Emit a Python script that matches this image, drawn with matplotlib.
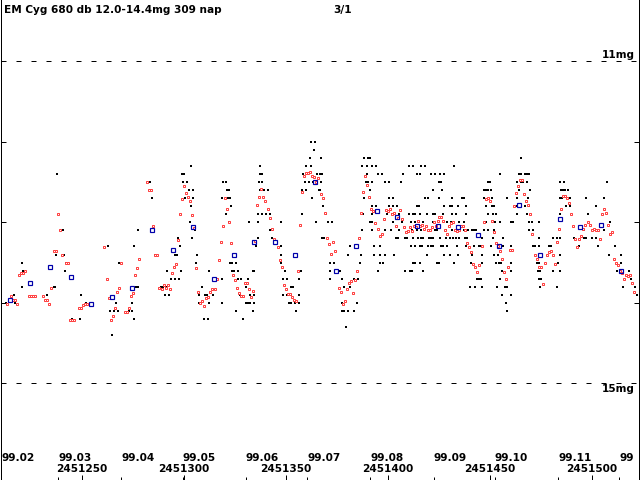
"""
EM Cyg light curve, 1999 Feb - Dec (visual estimates + 10-day means)
"""

import numpy as np
import pandas as pd
import matplotlib
matplotlib.use("Agg")
import matplotlib.pyplot as plt

JD0 = 2451200  # all JD values below are JD - JD0

TITLE = "EM Cyg 680 db 12.0-14.4mg 309 nap"
PAGE = "3/1"

# individual visual estimates (black dots), grouped by magnitude row
vis_rows = [12.0, 12.1, 12.2, 12.3, 12.4, 12.5, 12.6, 12.7, 12.8, 12.9, 13.0, 13.1,
            13.2, 13.3, 13.4, 13.5, 13.6, 13.7, 13.8, 13.9, 14.0, 14.1, 14.2, 14.3, 14.4]
vis_jd_rows = [
    [162.4, 164.4],
    [163.9],
    [161.9, 167.3, 188.4, 190.3, 191.3, 265.4],
    [103.6, 137.2, 159.8, 162.4, 187.4, 189.9, 192.3, 194.3, 210.4, 212.4, 216.3, 218.3, 232.5],
    [37.9, 99.2, 100.1, 137.2, 138.2, 158.3, 165.3, 166.8, 167.8, 189.9, 195.2, 197.2, 207.5,
     214.4, 215.8, 221.2, 223.2, 225.6, 227.6, 255.0, 264.4, 265.4, 267.3, 268.3, 269.3],
    [83.3, 99.7, 101.6, 119.3, 120.7, 136.9, 138.4, 159.5, 161.4, 163.4, 167.3, 189.4, 190.3,
     192.3, 198.7, 200.6, 206.5, 225.1, 226.1, 249.2, 250.2, 263.4, 265.4, 266.3, 268.3, 284.5,
     286.4, 307.5],
    [102.4, 104.6, 121.4, 122.4, 137.4, 139.4, 141.3, 158.1, 159.8, 166.3, 166.8, 191.3, 222.2,
     226.6, 247.2, 248.2, 249.2, 250.6, 264.4, 269.8, 284.9, 285.9, 286.9, 288.4],
    [84.5, 100.6, 104.6, 118.8, 121.7, 122.7, 162.9, 188.4, 191.3, 200.6, 202.6, 218.3, 219.8,
     225.1, 231.5, 236.4, 237.4, 247.2, 251.1, 258.5, 263.4, 268.8, 284.5, 285.4, 289.4, 297.2,
     306.0],
    [103.6, 123.2, 168.3, 192.3, 194.3, 200.6, 202.6, 204.6, 214.4, 215.3, 227.6, 230.5, 231.5,
     234.5, 238.4, 248.2, 251.1, 252.1, 263.4, 267.3, 269.3, 287.4, 289.4, 302.1],
    [120.7, 136.4, 138.4, 140.3, 142.3, 158.0, 169.8, 187.4, 187.9, 192.3, 199.7, 202.1, 205.5,
     210.4, 212.4, 213.4, 215.8, 219.3, 222.2, 223.2, 227.1, 231.5, 233.5, 238.4, 249.2, 251.6,
     253.1, 263.4, 268.3, 284.5, 298.2],
    [103.1, 122.2, 132.0, 136.4, 147.7, 164.9, 170.7, 172.7, 191.3, 192.3, 202.6, 207.0, 211.4,
     213.4, 215.3, 217.3, 222.2, 229.1, 231.0, 234.9, 237.4, 248.2, 252.6, 255.0, 260.4, 261.4,
     269.3, 270.7, 274.2, 309.0],
    [40.7, 77.4, 105.5, 142.3, 187.4, 192.3, 198.7, 201.6, 205.5, 211.9, 214.4, 216.3, 220.2,
     223.2, 224.2, 228.6, 231.5, 235.4, 237.4, 239.4, 241.3, 242.3, 243.3, 247.2, 249.2, 252.1,
     269.3, 271.2, 296.2, 306.0],
    [97.4, 104.1, 136.4, 143.3, 167.8, 168.8, 186.4, 204.1, 205.1, 208.5, 209.5, 212.4, 214.8,
     216.3, 217.3, 220.2, 221.2, 222.2, 225.6, 228.6, 230.5, 232.0, 233.5, 235.0, 237.9, 238.9,
     246.2, 251.6, 256.5, 274.2, 281.0, 283.0, 284.5, 291.3, 296.2, 297.2, 300.2, 302.1],
    [62.7, 75.5, 98.2, 135.4, 147.7, 181.5, 193.3, 196.2, 211.4, 213.4, 215.8, 216.8, 219.8,
     221.2, 222.2, 226.1, 227.1, 229.1, 234.0, 238.4, 242.3, 244.8, 245.7, 250.6, 256.5, 260.4,
     271.2, 272.2, 274.2, 279.1, 280.1, 293.8, 303.1, 311.4],
    [37.2, 41.5, 85.9, 95.7, 96.7, 106.5, 147.7, 180.5, 186.9, 193.3, 196.2, 198.7, 203.1,
     219.3, 227.6, 230.5, 234.5, 241.3, 246.2, 252.1, 254.1, 284.5, 308.5, 314.4],
    [20.6, 42.5, 68.5, 106.0, 122.7, 123.7, 125.6, 147.7, 171.7, 173.7, 186.4, 196.2, 197.7,
     212.4, 213.4, 215.8, 224.2, 225.1, 232.5, 240.8, 246.2, 253.1, 254.6, 255.5, 260.4, 273.2,
     274.2, 283.5, 314.4],
    [21.2, 41.8, 91.8, 98.7, 112.4, 123.7, 124.7, 126.6, 134.0, 134.5, 149.7, 157.5, 171.7,
     176.6, 195.2, 208.5, 210.9, 211.9, 217.3, 256.0, 260.4, 273.7, 274.7, 281.0, 284.5, 312.4,
     318.3],
    [93.8, 95.7, 97.7, 118.8, 126.6, 128.1, 131.5, 148.7, 150.6, 156.5, 171.7, 177.6, 183.5,
     185.4, 243.8, 244.8, 245.7, 255.0, 274.2, 275.2, 319.3],
    [20.7, 36.4, 37.0, 76.6, 77.4, 88.9, 89.9, 91.3, 109.0, 130.5, 152.6, 153.6, 178.6, 181.5,
     240.3, 242.8, 246.2, 253.6, 257.5, 258.5, 274.7, 283.0, 315.3, 321.2],
    [16.6, 33.0, 49.5, 90.8, 92.8, 107.5, 110.4, 111.4, 114.4, 127.6, 132.5, 134.5, 148.7,
     150.6, 152.6, 156.5, 256.0, 260.4, 322.2],
    [12.9, 17.1, 52.1, 66.8, 74.7, 107.5, 112.4, 118.8, 130.5, 131.5, 132.5, 134.5, 151.6,
     152.6, 154.6, 156.5, 177.6, 184.9, 258.0],
    [63.9, 65.8, 67.8, 73.3, 74.7, 125.6, 134.0, 155.0, 177.6, 178.6, 180.5, 183.5, 258.5],
    [45.4, 49.0, 75.5, 109.9, 111.9, 129.1],
    [179.6],
    [64.7],
]

# second observer series (red open squares)
obs_jd = [
    13.5, 15.5, 16.5, 17.5, 18.4, 19.4, 20.4, 21.4, 22.4, 24.3, 25.3, 26.3, 27.3, 31.2, 32.2,
    33.2, 34.1, 35.1, 36.6, 37.6, 38.5, 39.5, 40.5, 42.5, 43.4, 44.3, 45.2, 46.2, 48.5, 49.5,
    50.5, 51.5, 52.4, 61.1, 62.6, 63.5, 64.5, 65.5, 66.5, 67.5, 68.4, 69.4, 71.4, 72.4, 73.3,
    74.3, 75.3, 76.3, 77.3, 78.3, 82.2, 83.2, 84.1, 85.1, 86.1, 87.1, 88.1,
    89.5, 90.5, 91.5, 92.5, 93.4, 94.4, 95.4, 96.4, 97.4, 98.3, 99.3, 100.3, 101.3, 102.3,
    103.2, 104.2, 105.0, 106.2, 107.2, 108.2, 109.1, 110.1, 111.1, 112.1, 113.1, 114.0, 115.5,
    116.5, 117.5, 118.4, 119.4, 120.4, 121.4, 122.4, 123.3, 124.3, 125.3, 126.3, 127.3, 128.3,
    129.2, 130.2, 131.2, 132.2, 133.2, 134.1, 135.0, 136.1, 137.1, 138.1, 139.0, 140.0, 141.5,
    142.5, 143.4, 144.4, 146.4, 147.4, 148.4, 149.3, 150.3, 151.3, 152.3, 153.3, 154.2, 155.2,
    156.2, 157.2, 158.2, 159.1, 160.1, 161.1, 162.1, 163.1, 164.0, 165.0, 166.0,
    167.5, 168.4, 169.4, 170.4, 171.4, 172.4, 173.3, 174.3, 176.3, 177.3, 178.2, 179.2, 180.2,
    181.2, 182.2, 183.1, 184.1, 185.1, 186.1, 187.1, 188.1, 189.0, 190.0, 191.0, 192.0, 192.9,
    193.9, 195.4, 196.4, 197.4, 198.3, 199.3, 200.3, 201.3, 202.3, 203.3, 204.2, 205.2, 206.2,
    207.2, 208.2, 209.1, 210.1, 211.1, 212.1, 213.1, 214.0, 215.0, 216.0, 217.0, 218.0, 218.9,
    219.9, 220.9, 221.9, 222.9, 223.8, 224.8, 225.3, 226.3, 227.3, 228.2, 229.2, 230.2, 231.2,
    232.2, 233.2, 234.1, 235.1, 236.1, 237.1, 238.1, 239.0, 240.0, 241.0, 242.0, 242.9, 243.9,
    244.9,
    246.4, 247.4, 248.4, 249.3, 250.3, 251.3, 252.3, 253.3, 254.2, 255.2, 256.2, 257.2, 258.2,
    259.1, 260.1, 261.1, 262.1, 263.1, 264.0, 265.0, 266.0, 267.0, 268.0, 268.9, 269.9, 270.9,
    272.4, 273.4, 274.3, 275.3, 276.3, 277.3, 278.3, 279.2, 280.2, 281.2, 282.2, 283.2, 284.1,
    285.1, 286.1, 287.1, 288.1, 289.0, 290.0, 291.0, 292.0, 293.0, 293.9, 294.9, 295.9, 296.9,
    298.4, 299.3, 300.3, 301.3, 302.3, 303.3, 304.2, 305.2, 306.2, 307.2, 308.2, 309.1, 310.1,
    311.1, 312.1, 313.1, 314.0, 315.0, 316.0, 317.0, 318.0, 319.0, 319.9, 320.9,
]
obs_mag = [
    14.01, 13.91, 13.96, 13.96, 14.01, 13.66, 13.63, 13.63, 13.61, 13.91, 13.91, 13.91, 13.91,
    13.91, 13.96, 13.96, 14.01, 13.81, 13.36, 13.36, 12.90, 13.10, 13.41, 13.51, 13.51, 14.21,
    14.21, 14.21, 14.06, 14.06, 14.03, 14.01, 14.01, 13.31, 13.71, 13.94, 14.21, 14.17, 14.07,
    13.87, 13.81, 13.51, 14.11, 14.11, 14.07, 13.91, 13.88, 13.65, 13.57, 13.46, 12.50, 12.60,
    12.60, 13.05, 13.41, 13.41, 13.81,
    13.83, 13.78, 13.82, 13.78, 13.83, 13.63, 13.56, 13.52, 13.22, 12.90, 12.71, 12.55, 12.63,
    12.69, 12.74, 12.91, 13.07, 13.57, 13.86, 14.00, 13.98, 14.04, 13.94, 13.93, 13.86, 13.83,
    13.83, 13.71, 13.47, 13.24, 13.05, 12.70, 12.84, 13.00, 13.26, 13.66, 13.72, 13.82, 13.88,
    13.92, 13.91, 13.76, 13.76, 13.83, 13.93, 13.85, 13.23, 12.78, 12.68, 12.59, 12.69, 12.73,
    12.84, 12.95, 13.08, 13.21, 13.31, 13.47, 13.55, 13.78, 13.83, 13.89, 13.89, 13.93, 13.97,
    13.98, 13.61, 13.03, 12.62, 12.42, 12.39, 12.39, 12.38, 12.43, 12.44, 12.50, 12.45,
    12.65, 12.70, 12.89, 13.19, 13.27, 13.39, 13.24, 13.36, 13.81, 13.87, 14.01, 13.98, 13.83,
    13.75, 13.73, 13.88, 13.72, 13.60, 13.19, 12.88, 12.62, 12.42, 12.54, 12.69, 12.84, 12.86,
    13.01, 13.08, 13.17, 13.14, 12.96, 12.85, 12.86, 12.84, 12.90, 12.89, 13.05, 12.95, 12.85,
    12.96, 13.06, 13.12, 13.11, 13.06, 13.11, 13.05, 13.06, 12.99, 13.04, 13.03, 13.08, 13.05,
    13.09, 13.10, 13.06, 13.00, 13.05, 12.99, 12.93, 12.93, 12.98, 13.09, 13.15, 13.05, 13.01,
    13.00, 13.09, 13.11, 13.10, 13.05, 13.05, 13.10, 13.26, 13.31, 13.37, 13.52, 13.56, 13.62,
    13.53,
    13.29, 13.00, 12.71, 12.70, 12.74, 12.98, 13.12, 13.26, 13.29, 13.36, 13.45, 13.62, 13.70,
    13.55, 13.34, 13.34, 12.80, 12.63, 12.55, 12.47, 12.48, 12.65, 12.73, 12.78, 12.90, 13.15,
    13.40, 13.46, 13.55, 13.56, 13.77, 13.51, 13.41, 13.37, 13.36, 13.41, 13.52, 13.25, 13.08,
    12.83, 12.67, 12.67, 12.70, 12.76, 12.90, 13.05, 13.21, 13.31, 13.21, 13.17, 13.08, 13.03,
    13.00, 13.03, 13.10, 13.08, 13.10, 13.10, 13.21, 12.90, 12.83, 12.89, 13.03, 13.15, 13.12,
    13.46, 13.51, 13.53, 13.61, 13.63, 13.71, 13.66, 13.67, 13.66, 13.76, 13.86,
]

# 10-day means (blue squares)
mean_jd = [15.0, 24.8, 34.6, 44.9, 54.7, 65.0, 74.8, 84.6, 94.9, 104.7, 115.0, 124.8, 134.6,
           144.9, 154.7, 164.5, 174.8, 184.6, 194.9, 204.7, 214.5, 224.8, 234.6, 244.4, 254.7,
           264.5, 274.8, 284.6, 294.4, 304.7, 314.5]
mean_mag = [13.97, 13.75, 13.56, 13.68, 14.01, 13.93, 13.81, 13.10, 13.34, 13.06, 13.70, 13.40,
            13.24, 13.24, 13.40, 12.50, 13.61, 13.30, 12.86, 12.94, 13.05, 13.04, 13.06, 13.16,
            13.29, 12.79, 13.40, 12.96, 13.06, 13.03, 13.61]

# reference lines and axis ticks
ref_mags = [11, 15]
ref_labels = ["11mg", "15mg"]
mag_ticks = [12, 13, 14]
jd_ticks = [50, 100, 150, 200, 250, 300]
months = pd.date_range("1999-02-01", "1999-12-01", freq="MS")
# the last month label is cut by the frame in the original
month_labels = ["99.02", "99.03", "99.04", "99.05", "99.06", "99.07",
                "99.08", "99.09", "99.10", "99.11", "99"]

X_RANGE = (10.2, 322.95)
Y_RANGE = (16.195, 10.2385)

PX = 0.72  # one pixel in points at dpi 100
FONT = dict(family="DejaVu Sans", fontweight="bold", fontsize=7.6, color="black")

plt.rcParams["lines.scale_dashes"] = False

fig = plt.figure(figsize=(6.4, 4.8), dpi=100)
ax = fig.add_axes([0.5 / 640, 0.5 / 480, 638 / 640, 479.5 / 480])
ax.set_xlim(*X_RANGE)
ax.set_ylim(*Y_RANGE)

for side in ["left", "right", "bottom"]:
    ax.spines[side].set_linewidth(PX)
ax.spines["top"].set_visible(False)

# data
vis_jd = np.concatenate([np.array(r, dtype=float) for r in vis_jd_rows])
vis_mag = np.concatenate([np.full(len(r), m) for r, m in zip(vis_jd_rows, vis_rows)])
ax.plot(vis_jd, vis_mag, "s", ms=2 * PX, mew=0, color="black", zorder=3)
ax.plot(obs_jd, obs_mag, "s", ms=2.8 * PX, mew=1 * PX, mec="#ff4040", mfc="white",
        ls="none", zorder=4)
ax.plot(mean_jd, mean_mag, "s", ms=5 * PX, mew=1.2 * PX, mec="#0000aa", mfc="none",
        ls="none", zorder=5)

# dashed reference magnitudes
for m, lab in zip(ref_mags, ref_labels):
    ax.axhline(m, color="black", lw=PX, dashes=(5 * PX, 10 * PX))
    dy = 3.8 if m == min(ref_mags) else -8.7
    ax.annotate(lab, xy=(1, m), xycoords=("axes fraction", "data"),
                xytext=(-3.5, dy), textcoords="offset pixels",
                ha="right", va="baseline", **FONT)

# ticks
ax.set_yticks(mag_ticks)
ax.tick_params(axis="y", which="both", direction="in", left=True, right=True,
               length=5 * PX, width=PX, labelleft=False, labelright=False)
month_jd = [d.to_julian_date() - JD0 for d in months]
ax.set_xticks(jd_ticks)
ax.set_xticks(month_jd, minor=True)
ax.tick_params(axis="x", which="major", direction="in", length=5.5 * PX, width=PX,
               labelbottom=False)
ax.tick_params(axis="x", which="minor", direction="in", length=3.5 * PX, width=PX,
               labelbottom=False)

# tick labels drawn inside the plot area
for lab, x in zip(month_labels, month_jd):
    ax.annotate(lab, xy=(x, 19), xycoords=("data", "figure pixels"),
                ha="left", va="baseline", **FONT)
for x in jd_ticks:
    ax.annotate(str(JD0 + x), xy=(x, 8), xycoords=("data", "figure pixels"),
                ha="center", va="baseline", **FONT)

# header
fig.text(4 / 640, (480 - 12.7) / 480, TITLE, ha="left", va="baseline", **FONT)
fig.text(333 / 640, (480 - 12.7) / 480, PAGE, ha="left", va="baseline", **FONT)

fig.savefig("out.png", dpi=100)
